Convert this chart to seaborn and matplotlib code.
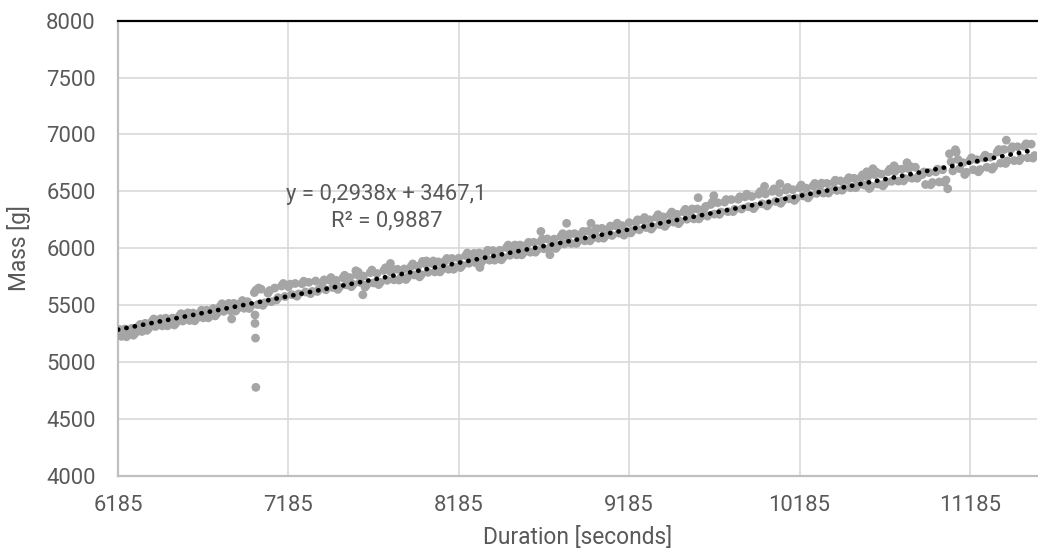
import numpy as np
import pandas as pd
import matplotlib
matplotlib.use("Agg")
import matplotlib.pyplot as plt
import seaborn as sns

# Sampling grid of the mass log (interleaved readings, 40 s apart each)
START = 6185
STEP = 40
N = 135

mass_upper = [
    5270, 5290, 5295, 5312, 5340, 5358, 5362, 5385, 5386, 5405,
    5410, 5430, 5432, 5455, 5470, 5490, 5494, 5515, 5518, 5530,
    5610, 5640, 5605, 5650, 5668, 5662, 5690, 5688, 5700, 5712,
    5700, 5720, 5718, 5740, 5742, 5768, 5755, 5785, 5778, 5805,
    5792, 5815, 5818, 5840, 5842, 5865, 5866, 5880, 5888, 5910,
    5912, 5935, 5932, 5958, 5960, 5980, 5982, 6005, 6006, 6028,
    6030, 6052, 6058, 6082, 6080, 6105, 6102, 6128, 6125, 6150,
    6150, 6175, 6172, 6198, 6198, 6225, 6228, 6248, 6250, 6272,
    6275, 6295, 6298, 6320, 6322, 6345, 6345, 6385, 6400, 6405,
    6428, 6430, 6452, 6455, 6475, 6478, 6500, 6490, 6512, 6515,
    6532, 6528, 6548, 6550, 6570, 6575, 6592, 6598, 6615, 6622,
    6628, 6648, 6652, 6672, 6675, 6695, 6698, 6712, 6648, 6665,
    6672, 6690, 6830, 6845, 6752, 6772, 6778, 6795, 6800, 6845,
    6868, 6870, 6892, 6895, 6915,
]

mass_lower = [
    5225, 5240, 5252, 5268, 5295, 5312, 5318, 5335, 5342, 5360,
    5365, 5382, 5388, 5405, 5425, 5445, 5450, 5468, 5472, 5492,
    5505, 5520, 5530, 5565, 5575, 5592, 5598, 5615, 5620, 5640,
    5635, 5655, 5658, 5678, 5682, 5700, 5678, 5695, 5700, 5718,
    5722, 5740, 5745, 5765, 5768, 5788, 5792, 5812, 5815, 5835,
    5850, 5868, 5872, 5892, 5895, 5915, 5918, 5938, 5942, 5962,
    5965, 5985, 5995, 6015, 6018, 6038, 6042, 6062, 6065, 6085,
    6088, 6108, 6112, 6132, 6135, 6155, 6162, 6182, 6188, 6208,
    6212, 6230, 6236, 6255, 6258, 6278, 6282, 6300, 6318, 6322,
    6342, 6345, 6365, 6368, 6390, 6392, 6412, 6415, 6435, 6440,
    6460, 6462, 6482, 6485, 6505, 6508, 6530, 6532, 6552, 6555,
    6545, 6565, 6568, 6588, 6590, 6612, 6615, 6635, 6560, 6578,
    6582, 6600, 6680, 6700, 6668, 6690, 6692, 6712, 6715, 6748,
    6768, 6770, 6792, 6795, 6815,
]

mass_scatter = [
    5285, 5222, 5235, 5330, 5278, 5378, 5380, 5318, 5325, 5425,
    5432, 5362, 5455, 5388, 5405, 5512, 5515, 5448, 5540, 5470,
    5632, 5498, 5628, 5545, 5690, 5684, 5578, 5710, 5600, 5620,
    5722, 5742, 5638, 5762, 5662, 5790, 5658, 5808, 5680, 5828,
    5815, 5720, 5725, 5862, 5748, 5888, 5888, 5792, 5910, 5815,
    5830, 5958, 5955, 5872, 5982, 5895, 5898, 6028, 6028, 5942,
    6052, 5965, 6080, 5995, 5998, 6128, 6125, 6042, 6148, 6065,
    6172, 6088, 6195, 6220, 6115, 6135, 6250, 6270, 6168, 6295,
    6192, 6318, 6216, 6342, 6345, 6258, 6368, 6408, 6298, 6428,
    6322, 6452, 6475, 6348, 6498, 6372, 6522, 6395, 6535, 6420,
    6555, 6442, 6570, 6572, 6485, 6598, 6510, 6620, 6532, 6645,
    6525, 6670, 6548, 6695, 6698, 6592, 6720, 6615, 6670, 6558,
    6695, 6580, 6760, 6780, 6648, 6795, 6672, 6818, 6695, 6868,
    6745, 6892, 6770, 6918, 6792,
]

# Isolated readings away from the main band
spike_duration = [6852, 6989, 6989, 6992, 6994, 7010, 7581, 7622, 7784, 7972,
                  8309, 8667, 8720, 8818, 8961, 9590, 9682, 9980, 10070, 10580,
                  10616, 10740, 10816, 11055, 11100, 11399]
spike_mass = [5378, 5413, 5339, 5210, 4777, 5650, 5802, 5591, 5866, 5884,
              5831, 6148, 5943, 6219, 6219, 6444, 6462, 6544, 6567, 6672,
              6699, 6725, 6752, 6523, 6866, 6950]

# Linear trend reported on the chart
slope = 0.2938
intercept = 3467.1
r_squared = 0.9887

x_ticks = [6185, 7185, 8185, 9185, 10185, 11185]
y_ticks = [4000, 4500, 5000, 5500, 6000, 6500, 7000, 7500, 8000]

t_upper = START + STEP * np.arange(N)
t_scatter = t_upper + STEP / 4
t_lower = t_upper + STEP / 2

df = pd.concat([
    pd.DataFrame({"Duration": t_upper, "Mass": mass_upper}),
    pd.DataFrame({"Duration": t_scatter, "Mass": mass_scatter}),
    pd.DataFrame({"Duration": t_lower, "Mass": mass_lower}),
    pd.DataFrame({"Duration": spike_duration, "Mass": spike_mass}),
], ignore_index=True)

sns.set_theme(style="white")
plt.rcParams["font.family"] = ["Roboto", "DejaVu Sans"]

fig = plt.figure(figsize=(10.38, 5.56), dpi=100)
ax = fig.add_axes([0.1137, 0.1444, 0.8855, 0.8183])

grey_text = "#595959"
grid_col = "#D9D9D9"

sns.scatterplot(data=df, x="Duration", y="Mass", ax=ax, color="#A5A5A5",
                s=40, linewidth=0, edgecolor="none", zorder=3, legend=False)

x_fit = np.array([df["Duration"].min(), df["Duration"].max()])
ax.plot(x_fit, slope * x_fit + intercept, color="black", linewidth=3.4,
        linestyle=(0, (0.05, 1.75)), dash_capstyle="round", zorder=4)

ax.set_xlim(6185, 11580)
ax.set_ylim(4000, 8000)
ax.set_xticks(x_ticks)
ax.set_yticks(y_ticks)
ax.set_xticklabels([str(v) for v in x_ticks])
ax.set_yticklabels([str(v) for v in y_ticks])

for v in y_ticks[1:-1]:
    ax.axhline(v, color=grid_col, linewidth=1.2, zorder=1)
for v in x_ticks[1:]:
    ax.axvline(v, color=grid_col, linewidth=1.2, zorder=1)

for side in ("left", "bottom"):
    ax.spines[side].set_color("#BFBFBF")
    ax.spines[side].set_linewidth(1.6)
ax.spines["top"].set_color("black")
ax.spines["top"].set_linewidth(1.6)
ax.spines["right"].set_visible(False)

ax.tick_params(axis="both", length=0, labelsize=15.8, labelcolor=grey_text)
ax.tick_params(axis="y", pad=16)
ax.tick_params(axis="x", pad=14)

ax.set_xlabel("Duration [seconds]", fontsize=16.4, color=grey_text, labelpad=7)
ax.set_ylabel("Mass [g]", fontsize=16.4, color=grey_text, labelpad=11)

eq = f"y = {slope:.4f}x + {intercept:.1f}".replace(".", ",")
r2 = f"R² = {r_squared:.4f}".replace(".", ",")
ax.text(7760, 6355, eq + "\n" + r2, ha="center", va="center",
        fontsize=15.8, color=grey_text, linespacing=1.35, zorder=5)

fig.savefig("out.png", dpi=100)
